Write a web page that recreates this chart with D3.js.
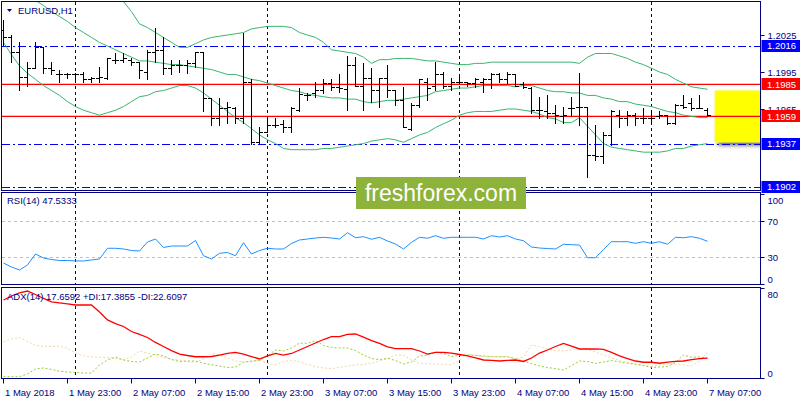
<!DOCTYPE html>
<html><head><meta charset="utf-8">
<script src="https://cdn.jsdelivr.net/npm/d3@7"></script>
<style>
body{margin:0;background:#fff;}
svg{display:block;}
text{font-family:"Liberation Sans",Arial,sans-serif;}
</style>
</head><body>
<svg id="c" width="800" height="400"></svg>
<script>
// ---------- DATA (EURUSD H1, bar 0 = 1 May 2018 15:00) ----------
const open = [1.2029,1.2023,1.2011,1.1991,1.1998,1.2015,1.1998,1.1993,1.1993,1.1993,
1.1993,1.1989,1.1990,1.1990,1.2005,1.2005,1.2005,1.2003,1.1995,1.2011,
1.2013,1.1998,1.2001,1.2001,1.2002,1.2011,1.1974,1.1958,1.1966,1.1966,
1.1958,1.1987,1.1938,1.1946,1.1952,1.1953,1.1950,1.1964,1.1976,1.1978,
1.1980,1.1986,1.1983,1.1981,1.2001,1.1984,1.1990,1.1980,1.1990,1.1980,
1.1972,1.1949,1.1968,1.1987,1.1984,1.1993,1.1984,1.1987,1.1987,1.1986,
1.1987,1.1989,1.1993,1.1989,1.1993,1.1985,1.1982,1.1964,1.1963,1.1962,
1.1959,1.1966,1.1967,1.1967,1.1928,1.1927,1.1944,1.1960,1.1958,1.1960,
1.1958,1.1958,1.1959,1.1960,1.1954,1.1968,1.1970,1.1966,1.1964];
const high = [1.2037,1.2025,1.2019,1.2003,1.2019,1.2015,1.2003,1.1997,1.1994,1.1994,
1.1995,1.1991,1.1999,1.2006,1.2010,1.2010,1.2006,1.2003,1.2013,1.2031,
1.2023,1.2005,1.2005,1.2005,1.2011,1.2011,1.1974,1.1974,1.1971,1.1967,
1.2027,1.1989,1.1950,1.1958,1.1958,1.1956,1.1967,1.1982,1.1978,1.1987,
1.1989,1.1989,1.1993,1.2008,1.2007,1.2002,1.1998,1.1990,1.2001,1.1980,
1.1983,1.1970,1.1989,1.1990,1.2003,1.1995,1.1990,1.1993,1.1987,1.1990,
1.1990,1.1994,1.1994,1.1995,1.1993,1.1987,1.1983,1.1975,1.1976,1.1968,
1.1967,1.1975,1.1994,1.1967,1.1952,1.1946,1.1964,1.1964,1.1963,1.1962,
1.1966,1.1964,1.1963,1.1960,1.1969,1.1976,1.1974,1.1976,1.1966];
const low = [1.2017,1.2003,1.1980,1.1984,1.1998,1.1994,1.1993,1.1987,1.1990,1.1989,
1.1987,1.1987,1.1987,1.1989,1.2002,1.2003,1.2001,1.1990,1.1989,1.2003,
1.1993,1.1993,1.1995,1.1994,1.1999,1.1963,1.1952,1.1952,1.1954,1.1954,
1.1954,1.1937,1.1937,1.1946,1.1950,1.1946,1.1946,1.1963,1.1972,1.1975,
1.1978,1.1980,1.1979,1.1964,1.1984,1.1964,1.1971,1.1967,1.1975,1.1968,
1.1950,1.1948,1.1967,1.1972,1.1980,1.1982,1.1980,1.1986,1.1984,1.1983,
1.1979,1.1982,1.1987,1.1986,1.1984,1.1982,1.1962,1.1958,1.1958,1.1954,
1.1954,1.1960,1.1952,1.1910,1.1924,1.1921,1.1936,1.1950,1.1952,1.1952,
1.1954,1.1954,1.1958,1.1953,1.1953,1.1966,1.1964,1.1966,1.1960];
const close = [1.2023,1.2011,1.1991,1.1998,1.2015,1.1998,1.1997,1.1993,1.1993,1.1993,
1.1989,1.1990,1.1991,1.2006,1.2005,1.2006,1.2003,1.1997,1.2011,1.2013,
1.1998,1.2001,1.2001,1.2002,1.2011,1.1974,1.1958,1.1966,1.1967,1.1958,
1.1987,1.1938,1.1946,1.1952,1.1952,1.1950,1.1966,1.1977,1.1976,1.1980,
1.1986,1.1983,1.1982,1.2001,1.1984,1.1990,1.1980,1.1990,1.1980,1.1972,
1.1950,1.1968,1.1989,1.1982,1.1993,1.1984,1.1987,1.1987,1.1986,1.1989,
1.1989,1.1993,1.1989,1.1993,1.1984,1.1983,1.1964,1.1964,1.1962,1.1960,
1.1960,1.1966,1.1967,1.1928,1.1927,1.1944,1.1963,1.1958,1.1960,1.1958,
1.1958,1.1958,1.1960,1.1954,1.1968,1.1967,1.1966,1.1966,1.1960];

const bbUpper = [1.2121,1.2122,1.2123,1.2121,1.2117,1.2113,1.2109,1.2105,1.2102,1.2096,
1.2091,1.2085,1.2077,1.2070,1.2061,1.2052,1.2044,1.2034,1.2031,1.2027,
1.2023,1.2019,1.2015,1.2015,1.2018,1.2021,1.2023,1.2024,1.2025,1.2026,
1.2027,1.2030,1.2031,1.2032,1.2032,1.2032,1.2031,1.2027,1.2025,1.2023,
1.2019,1.2013,1.2012,1.2011,1.2010,1.2007,1.2002,1.2005,1.2005,1.2006,
1.2006,1.2006,1.2005,1.2004,1.2004,1.2003,1.2002,1.2001,1.2001,1.2002,
1.2002,1.2003,1.2003,1.2003,1.2003,1.2003,1.2003,1.2003,1.2003,1.2003,
1.2003,1.2003,1.2002,1.2007,1.2010,1.2010,1.2010,1.2008,1.2006,1.2003,
1.2001,1.1998,1.1995,1.1993,1.1989,1.1986,1.1983,1.1982,1.1981];
const bbMiddle = [1.2070,1.2066,1.2061,1.2057,1.2053,1.2049,1.2044,1.2040,1.2036,1.2031,
1.2027,1.2023,1.2019,1.2016,1.2013,1.2010,1.2007,1.2004,1.2004,1.2003,
1.2002,1.2001,1.2001,1.2000,1.1999,1.1998,1.1997,1.1995,1.1993,1.1993,
1.1991,1.1989,1.1988,1.1986,1.1984,1.1982,1.1980,1.1979,1.1977,1.1976,
1.1975,1.1974,1.1974,1.1973,1.1973,1.1971,1.1970,1.1971,1.1972,1.1972,
1.1973,1.1974,1.1975,1.1976,1.1979,1.1980,1.1981,1.1982,1.1982,1.1983,
1.1984,1.1984,1.1984,1.1984,1.1983,1.1984,1.1984,1.1982,1.1980,1.1979,
1.1979,1.1978,1.1978,1.1976,1.1976,1.1974,1.1973,1.1971,1.1971,1.1969,
1.1968,1.1967,1.1965,1.1963,1.1962,1.1960,1.1959,1.1958,1.1958];
const bbLower = [1.2019,1.2009,1.2000,1.1994,1.1989,1.1984,1.1980,1.1976,1.1971,1.1967,
1.1964,1.1962,1.1960,1.1962,1.1964,1.1967,1.1971,1.1975,1.1976,1.1979,
1.1980,1.1982,1.1984,1.1984,1.1982,1.1978,1.1973,1.1968,1.1963,1.1958,
1.1954,1.1949,1.1944,1.1940,1.1937,1.1933,1.1932,1.1932,1.1932,1.1932,
1.1933,1.1933,1.1934,1.1935,1.1936,1.1937,1.1939,1.1940,1.1941,1.1940,
1.1938,1.1941,1.1944,1.1946,1.1950,1.1953,1.1956,1.1960,1.1962,1.1963,
1.1963,1.1963,1.1964,1.1965,1.1965,1.1964,1.1963,1.1961,1.1958,1.1957,
1.1954,1.1954,1.1958,1.1951,1.1944,1.1937,1.1934,1.1933,1.1932,1.1931,
1.1930,1.1930,1.1930,1.1931,1.1933,1.1933,1.1935,1.1936,1.1937];

const rsi = [23.3,18.9,15.6,21.1,33.3,28.9,27.2,26.1,26.1,25.6,
25.6,26.7,27.8,39.7,39.7,38.9,37.2,36.7,46.7,50.0,
40.6,42.2,42.2,42.2,48.3,31.4,27.8,34.1,35.0,31.4,
45.9,33.3,37.2,39.7,38.9,38.9,45.0,48.9,50.0,51.1,
51.9,51.1,50.0,57.0,51.4,52.6,49.7,51.9,47.8,44.4,
38.9,46.3,51.9,50.8,53.7,50.8,51.9,51.9,51.9,51.9,
50.0,53.7,52.2,53.7,50.0,48.1,41.1,40.0,39.4,38.9,
44.1,43.7,43.3,29.2,29.2,38.3,47.0,47.0,47.0,45.2,
47.0,45.2,47.0,44.1,51.9,51.4,52.6,50.8,47.5];

const adx = [69.3,72.9,75.6,77.3,74.2,70.7,67.6,66.7,65.8,64.9,
64.9,64.9,58.7,51.6,48.4,45.8,41.3,38.7,36.0,31.6,
28.0,24.4,21.3,20.0,18.9,18.9,19.1,20.4,21.8,22.7,
21.3,19.1,16.9,19.6,21.8,20.4,21.8,24.9,28.0,31.1,
34.2,36.7,36.7,38.7,39.1,36.4,33.3,30.7,27.6,26.2,
26.2,26.2,24.0,21.3,22.7,22.8,22.2,20.9,19.6,17.8,
16.0,15.6,15.1,15.6,16.0,14.7,17.8,22.2,24.9,28.0,
30.8,28.4,25.8,25.8,25.8,25.5,22.7,19.6,17.3,15.1,
14.0,14.0,13.1,14.2,14.7,15.1,16.4,17.2,17.7];
const plusDI = [1.2,1.2,1.2,3.6,8.0,8.9,7.6,6.0,5.3,4.9,
4.4,4.4,11.6,16.0,18.7,16.0,14.7,14.2,17.8,21.3,
19.6,16.4,14.7,15.1,15.1,13.1,11.8,10.7,9.3,9.8,
14.0,15.1,15.7,19.6,24.9,24.0,26.7,31.1,30.8,33.3,
28.9,27.1,26.7,26.7,24.4,20.4,17.3,16.3,17.5,15.6,
12.4,14.2,19.6,20.4,23.1,21.8,19.1,20.0,20.4,20.0,
19.6,18.9,18.9,18.9,17.2,15.1,12.7,10.7,9.3,8.4,
7.1,11.1,15.1,14.7,12.9,14.2,15.6,14.2,13.1,12.2,
11.1,9.3,9.8,10.2,13.8,20.4,18.4,18.7,17.4];
const minusDI = [32.3,34.7,36.0,32.4,29.1,28.2,28.0,28.4,26.2,22.2,
19.7,18.8,18.5,18.2,17.3,16.4,18.7,24.0,21.9,20.4,
18.2,16.6,16.0,14.2,14.0,16.9,21.8,20.4,17.8,15.1,
14.2,14.7,15.6,13.1,11.6,14.7,15.7,14.5,12.0,10.2,
8.9,8.4,9.3,10.7,11.6,12.0,13.1,15.1,17.3,20.4,
20.4,16.0,12.9,12.7,12.4,12.2,11.6,16.0,21.3,20.4,
18.9,18.9,18.9,18.9,16.9,18.7,29.3,28.0,25.8,24.4,
24.0,24.9,26.2,25.3,23.1,20.4,17.8,15.6,13.8,12.4,
11.1,10.2,11.6,12.7,12.2,11.6,10.7,15.1,22.6];

const xTickBars = [0,8,16,24,32,40,48,56,64,72,80,88];
const xTickLabels = ["1 May 2018","1 May 23:00","2 May 07:00","2 May 15:00","2 May 23:00","3 May 07:00",
                     "3 May 15:00","3 May 23:00","4 May 07:00","4 May 15:00","4 May 23:00","7 May 07:00"];
const daySeparatorBars = [9,33,57,81];
const priceTicks = [1.2025,1.1995,1.1965];
const blueLevels = [1.2016,1.1937,1.1902];
const redLevels = [1.1985,1.1959];
const zoneTop = 1.1980, zoneBottom = 1.1938, zoneStartBar = 88.9;
const rsiLevels = [70,30];
const rsiTicks = [100,70,30,0];
const adxTicks = [80,0];
const symbolTitle = "EURUSD,H1";
const rsiTitle = "RSI(14) 47.5333";
const adxTitle = "ADX(14) 17.6592 +DI:17.3855 -DI:22.6097";
const watermark = "freshforex.com";

// ---------- LAYOUT ----------
const NAVY = "#000080";
const L = 2, R = 760;
const P_MAIN = {top:2, bottom:190};
const P_RSI = {top:193, bottom:284};
const P_ADX = {top:288, bottom:378};

const svg = d3.select("#c");
const x = d3.scaleLinear().domain([0, 88]).range([3.5, 707.5]);
const yP = d3.scaleLinear().domain([1.1902, 1.2025]).range([186.7, 35]);
const yR = d3.scaleLinear().domain([0, 100]).range([284, 194]);
const yA = d3.scaleLinear().domain([0, 80]).range([378, 288]);
const idx = d3.range(open.length);
const snap = v => Math.round(v) + 0.5;

const defs = svg.append("defs");
[["clipMain",P_MAIN],["clipRsi",P_RSI],["clipAdx",P_ADX]].forEach(([id,p])=>{
  defs.append("clipPath").attr("id",id).append("rect")
    .attr("x",L).attr("y",p.top).attr("width",R-L).attr("height",p.bottom-p.top);
});
const f = defs.append("filter").attr("id","shadow").attr("x","-20%").attr("y","-20%").attr("width","150%").attr("height","150%");
f.append("feDropShadow").attr("dx",3).attr("dy",3).attr("stdDeviation",2.2).attr("flood-color","#000").attr("flood-opacity",0.6);

// day separators (all panels)
const sep = svg.append("g");
daySeparatorBars.forEach(b=>{
  [P_MAIN,P_RSI,P_ADX].forEach(p=>{
    sep.append("line").attr("x1",snap(x(b))-1).attr("x2",snap(x(b))-1)
      .attr("y1",p.top).attr("y2",p.bottom)
      .attr("stroke",NAVY).attr("stroke-width",1).attr("stroke-dasharray","3,3");
  });
});

// ---------- MAIN PANEL ----------
const gM = svg.append("g").attr("clip-path","url(#clipMain)");

// yellow zone
gM.append("rect").attr("x",x(zoneStartBar)).attr("y",yP(zoneTop))
  .attr("width",R - x(zoneStartBar)).attr("height",yP(zoneBottom)-yP(zoneTop))
  .attr("fill","#ffff00").attr("filter","url(#shadow)");

blueLevels.forEach(v=>{
  gM.append("line").attr("x1",L).attr("x2",R).attr("y1",snap(yP(v))).attr("y2",snap(yP(v)))
    .attr("stroke","#0000ff").attr("stroke-width",1.2).attr("stroke-dasharray","8,3,2,3");
});
redLevels.forEach(v=>{
  gM.append("line").attr("x1",L).attr("x2",R).attr("y1",yP(v)).attr("y2",yP(v))
    .attr("stroke","#ff0000").attr("stroke-width",1.4);
});

const bbLine = arr => d3.line().x(i=>x(i)).y(i=>yP(arr[i]))(idx);
[bbUpper,bbMiddle,bbLower].forEach(arr=>{
  gM.append("path").attr("d",bbLine(arr)).attr("fill","none")
    .attr("stroke","#3cb371").attr("stroke-width",1);
});

const bars = gM.append("g").attr("stroke","#000").attr("stroke-width",1);
idx.forEach(i=>{
  const cx = x(i);
  bars.append("line").attr("x1",cx).attr("x2",cx).attr("y1",Math.round(yP(high[i]))).attr("y2",Math.round(yP(low[i]))+1);
  bars.append("line").attr("x1",cx-3.5).attr("x2",cx).attr("y1",snap(yP(open[i]))).attr("y2",snap(yP(open[i])));
  bars.append("line").attr("x1",cx).attr("x2",cx+3.5).attr("y1",snap(yP(close[i]))).attr("y2",snap(yP(close[i])));
});

// header
svg.append("path").attr("d","M7,9 L12,9 L9.5,12 Z").attr("fill",NAVY);
svg.append("text").attr("x",18).attr("y",14).attr("font-size",9.5).attr("fill",NAVY).text(symbolTitle);

// ---------- RSI PANEL ----------
const gR = svg.append("g").attr("clip-path","url(#clipRsi)");
rsiLevels.forEach(v=>{
  gR.append("line").attr("x1",L).attr("x2",R).attr("y1",snap(yR(v))).attr("y2",snap(yR(v)))
    .attr("stroke","#c0c0c0").attr("stroke-dasharray","3,3");
});
gR.append("path").attr("d",d3.line().x(i=>x(i)).y(i=>yR(rsi[i]))(idx))
  .attr("fill","none").attr("stroke","#1e90ff").attr("stroke-width",1);
svg.append("text").attr("x",7).attr("y",204).attr("font-size",9.5).attr("fill",NAVY).text(rsiTitle);

// ---------- ADX PANEL ----------
const gA = svg.append("g").attr("clip-path","url(#clipAdx)");
gA.append("path").attr("d",d3.line().x(i=>x(i)).y(i=>yA(minusDI[i]))(idx))
  .attr("fill","none").attr("stroke","#f2d6a8").attr("stroke-width",1).attr("stroke-dasharray","2,2");
gA.append("path").attr("d",d3.line().x(i=>x(i)).y(i=>yA(plusDI[i]))(idx))
  .attr("fill","none").attr("stroke","#9acd32").attr("stroke-width",1).attr("stroke-dasharray","2,2");
gA.append("path").attr("d",d3.line().x(i=>x(i)).y(i=>yA(adx[i]))(idx))
  .attr("fill","none").attr("stroke","#ff0000").attr("stroke-width",1.3);
svg.append("text").attr("x",7).attr("y",300).attr("font-size",9.5).attr("fill",NAVY).text(adxTitle);

// ---------- PANEL BORDERS ----------
[P_MAIN,P_RSI,P_ADX].forEach(p=>{
  svg.append("rect").attr("x",L-0.5).attr("y",p.top-0.5).attr("width",R-L+1).attr("height",p.bottom-p.top+1)
    .attr("fill","none").attr("stroke",NAVY).attr("stroke-width",1);
});

// ---------- AXES ----------
function styleAxis(g){
  g.select(".domain").remove();
  g.selectAll(".tick line").attr("stroke",NAVY);
  g.selectAll(".tick text").attr("fill",NAVY).attr("font-size",9.5)
    .attr("font-family","'Liberation Sans',Arial,sans-serif");
}
const axP = svg.append("g").attr("transform",`translate(${R+0.5},0)`)
  .call(d3.axisRight(yP).tickValues(priceTicks).tickSize(4).tickPadding(3).tickFormat(d3.format(".4f")));
styleAxis(axP);

const axR = svg.append("g").attr("transform",`translate(${R+0.5},0)`)
  .call(d3.axisRight(yR).tickValues(rsiTicks).tickSize(4).tickPadding(3).tickFormat(d3.format("d")));
styleAxis(axR);
axR.selectAll(".tick text").attr("dy",d=> d===100 ? "0.95em" : d===0 ? "-0.15em" : "0.32em");

const axA = svg.append("g").attr("transform",`translate(${R+0.5},0)`)
  .call(d3.axisRight(yA).tickValues(adxTicks).tickSize(4).tickPadding(3).tickFormat(d3.format("d")));
styleAxis(axA);
axA.selectAll(".tick text").attr("dy",d=> d===80 ? "0.95em" : "-0.15em");

const axX = svg.append("g").attr("transform",`translate(0,${P_ADX.bottom+0.5})`)
  .call(d3.axisBottom(x).tickValues(xTickBars).tickSize(5).tickPadding(6)
        .tickFormat((d,i)=>xTickLabels[i]));
styleAxis(axX);
axX.selectAll(".tick line").attr("transform","translate(-0.5,0)");
axX.selectAll(".tick text").attr("text-anchor","start").attr("x",1).attr("dy","0.71em");

// level label boxes on price axis
function levelBox(v,color){
  const cy = yP(v);
  svg.append("rect").attr("x",R+1.5).attr("y",Math.round(cy)-6).attr("width",40).attr("height",12).attr("fill",color);
  svg.append("text").attr("x",R+7).attr("y",cy).attr("dy","0.35em").attr("font-size",9.5)
    .attr("fill","#fff").text(d3.format(".4f")(v));
}
blueLevels.forEach(v=>levelBox(v,"#0000ff"));
redLevels.forEach(v=>levelBox(v,"#ff0000"));

// ---------- WATERMARK ----------
svg.append("rect").attr("x",356).attr("y",177).attr("width",170).attr("height",32).attr("fill","#8db33a");
svg.append("text").attr("x",441).attr("y",201).attr("text-anchor","middle").attr("font-size",23)
  .attr("font-family","'Open Sans','Noto Sans',sans-serif").attr("fill","#fff").text(watermark);
</script>
</body></html>
